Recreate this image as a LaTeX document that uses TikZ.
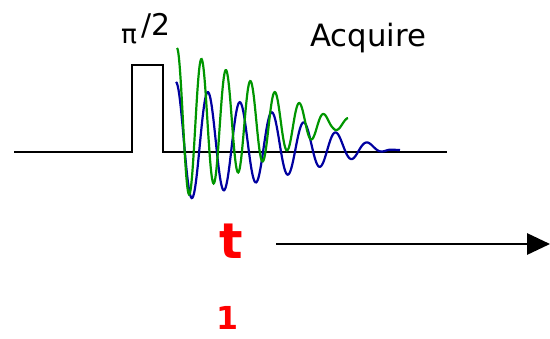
\documentclass[tikz,border=0pt]{standalone}
\usepackage{fontspec}
\setmainfont{DejaVu Sans}
\usepackage{xcolor}
\usetikzlibrary{arrows.meta}
\definecolor{fidgreen}{RGB}{0,150,0}
\definecolor{fidblue}{RGB}{0,0,160}

\begin{document}
\begin{tikzpicture}[
				x=0.02cm, y=-0.02cm,
				seq/.style={line width=1.3pt, black},
				fid/.style={line width=1.25pt, smooth, samples=300},
				label/.style={inner sep=0pt, anchor=center},
				arrow/.style={-{Triangle[length=13pt, width=12pt]}, line width=1.3pt}
				]
				\useasboundingbox (0,0) rectangle (550,338);
				% Pulse sequence
				\draw [seq] (14,152) -- (132,152) -- (132,65) -- (163,65) -- (163,152) -- (447,152);
				
				% FID signals
				\draw [fid, fidblue] plot [domain=176:400] (\x, {142 + 8*(\x-176)/224 - max(60 - 0.28*(\x-176), 0)*cos((\x-176)/32*360)});
				\draw [fid, fidgreen] plot [domain=177:348] (\x, {124 - max(76 - 0.45*(\x-177), 6)*cos((\x-177)/24.5*360)});
				
				% Nodes
				\node (pilabel) [label, font=\fontsize{15}{15}\selectfont] at (129,37) {π};
				\node (halflabel) [label, font=\fontsize{17}{17}\selectfont] at (156,26) {/2};
				\node (acquire) [label, font=\fontsize{17.5}{17.5}\selectfont] at (368,38) {Acquire};
				\node (tlabel) [label, red, font=\fontsize{28}{28}\selectfont\bfseries] at (231,241) {t};
				\node (onelabel) [label, red, font=\fontsize{18}{18}\selectfont\bfseries] at (227,318) {1};
				\coordinate (tstart) at (276,244);
				\coordinate (tend) at (550,244);
				
				% Arrows
				\draw [arrow] (tstart) -- (tend);
			\end{tikzpicture}
\end{document}
